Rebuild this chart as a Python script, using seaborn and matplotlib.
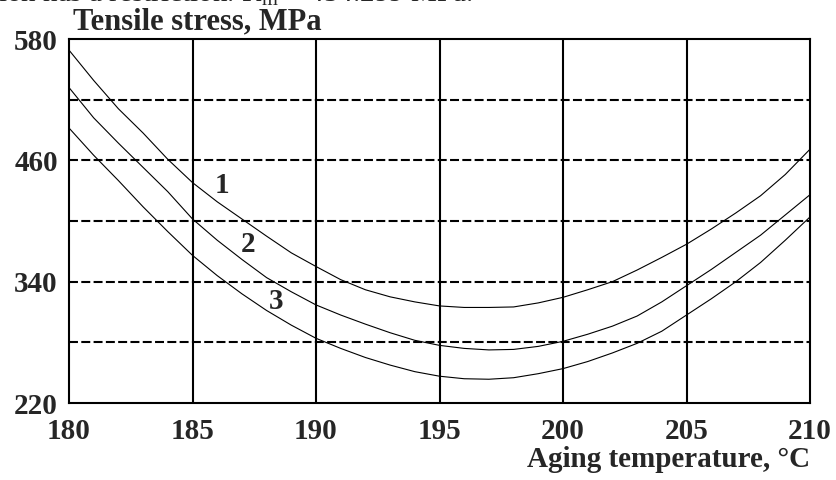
import numpy as np
import pandas as pd
import matplotlib
matplotlib.use("Agg")
import matplotlib.pyplot as plt
import seaborn as sns

# Data
temperature = [180, 181, 182, 183, 184, 185, 186, 187, 188, 189, 190,
               191, 192, 193, 194, 195, 196, 197, 198, 199, 200,
               201, 202, 203, 204, 205, 206, 207, 208, 209, 210]
curve1 = [569, 539, 511, 487, 461, 438, 419, 402, 385, 368.5, 355,
          342, 332, 325, 320, 316, 314.5, 314.5, 315, 319, 324.5,
          332, 340, 351.5, 364, 377, 392, 408, 425, 446, 471]
curve2 = [532, 502, 477, 453, 429, 402, 381, 362, 344, 330, 317,
          307, 298, 289.5, 282, 277, 274, 272.5, 273, 276, 281,
          288, 296, 306, 320, 336, 352, 369, 386, 406, 426]
curve3 = [492, 465, 440, 414, 389.5, 366, 346, 328, 311.5, 297, 284,
          274, 265, 257.5, 251, 246.5, 244, 243.5, 245, 249, 254,
          261, 269.5, 279, 291, 307, 323, 340, 359, 381, 404]
curve_labels = ["1", "2", "3"]
label_pos_x = [186.2, 187.25, 188.4]
label_pos_y = [435, 377, 320]
x_ticks = [180, 185, 190, 195, 200, 205, 210]
y_ticks_labeled = [220, 340, 460, 580]
y_ticks_all = [220, 280, 340, 400, 460, 520, 580]

df = pd.concat([
    pd.DataFrame({"T": temperature, "S": curve1, "curve": "1"}),
    pd.DataFrame({"T": temperature, "S": curve2, "curve": "2"}),
    pd.DataFrame({"T": temperature, "S": curve3, "curve": "3"}),
])

sns.set_style("white")
plt.rcParams["font.family"] = ["Liberation Serif", "DejaVu Serif"]
plt.rcParams["mathtext.fontset"] = "custom"
plt.rcParams["mathtext.rm"] = "Liberation Serif"
plt.rcParams["mathtext.it"] = "Liberation Serif:italic"
plt.rcParams["mathtext.bf"] = "Liberation Serif:bold"

FS = 21
fig = plt.figure(figsize=(8.37, 4.80), dpi=100)
ax = fig.add_axes([69/837, 77/480, (810-69)/837, (403-39)/480])

# grid
for xv in x_ticks[1:-1]:
    ax.axvline(xv, color="black", lw=1.5, zorder=1)
for yv in y_ticks_all[1:-1]:
    ax.axhline(yv, color="black", lw=1.5, dashes=(4.3, 1.6), zorder=1)

sns.lineplot(data=df, x="T", y="S", hue="curve", palette=["black"] * 3,
             linewidth=0.8, legend=False, ax=ax, zorder=3, sort=True)

for t, lx, ly in zip(curve_labels, label_pos_x, label_pos_y):
    ax.text(lx, ly, t, fontsize=FS, fontweight="bold", ha="center", va="center")

ax.set_xlim(180, 210)
ax.set_ylim(220, 580)
ax.set_xticks(x_ticks)
ax.set_xticklabels([str(v) for v in x_ticks])
ax.set_yticks(y_ticks_all)
ax.set_yticklabels([str(v) if v in y_ticks_labeled else "" for v in y_ticks_all])
ax.tick_params(axis="y", length=4.5, width=1.5, color="black", pad=3.5,
               labelsize=FS, direction="out")
ax.tick_params(axis="x", length=0, pad=11, labelsize=FS)
for lab in ax.get_xticklabels() + ax.get_yticklabels():
    lab.set_fontweight("bold")
for sp in ax.spines.values():
    sp.set_color("black")
    sp.set_linewidth(1.5)
ax.set_xlabel("")
ax.set_ylabel("")

fig.text(73/837, 1 - 29/480, "Tensile stress, MPa", fontsize=22, fontweight="bold",
         ha="left", va="baseline")
fig.text(810/837, 1 - 467/480, "Aging temperature, \u00b0C", fontsize=FS,
         fontweight="bold", ha="right", va="baseline")
fig.text(-2/837, 1 - 2/480, "ion has a restriction. R$_{\\rm m}$ < 454.299 MPa.",
         fontsize=FS, ha="left", va="baseline")

fig.savefig("out.png", dpi=100, facecolor="white")
